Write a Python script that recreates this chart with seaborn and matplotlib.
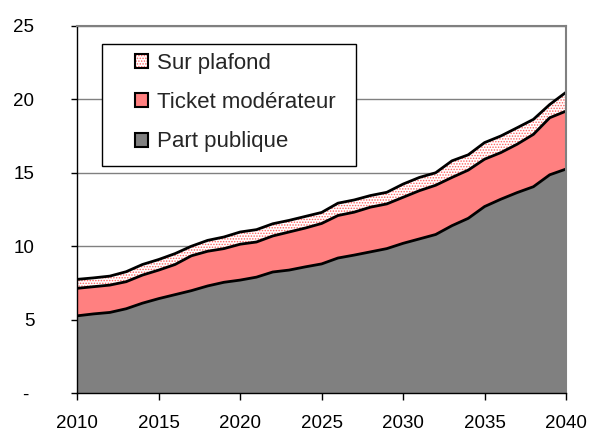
import numpy as np
import pandas as pd
import matplotlib
matplotlib.use("Agg")
import matplotlib.pyplot as plt
import seaborn as sns
from matplotlib.patches import Patch, Rectangle
from matplotlib.legend_handler import HandlerTuple

years = list(range(2010, 2041))
part_publique = [5.27, 5.40, 5.50, 5.75, 6.13, 6.44, 6.71, 6.98, 7.30, 7.55,
                 7.70, 7.90, 8.25, 8.38, 8.60, 8.80, 9.20, 9.40, 9.62, 9.84,
                 10.20, 10.50, 10.80, 11.40, 11.90, 12.70, 13.20, 13.65, 14.05, 14.86,
                 15.25]
ticket_moderateur = [1.87, 1.85, 1.86, 1.84, 1.91, 1.94, 2.05, 2.37, 2.36, 2.29,
                     2.44, 2.39, 2.45, 2.59, 2.64, 2.75, 2.89, 2.92, 3.04, 3.04,
                     3.13, 3.28, 3.35, 3.28, 3.28, 3.22, 3.17, 3.29, 3.56, 3.88,
                     3.94]
sur_plafond = [0.61, 0.60, 0.61, 0.68, 0.72, 0.72, 0.74, 0.65, 0.74, 0.79,
               0.83, 0.84, 0.83, 0.79, 0.79, 0.75, 0.84, 0.83, 0.79, 0.79,
               0.90, 0.90, 0.85, 1.13, 1.04, 1.13, 1.13, 1.12, 1.02, 0.90,
               1.28]
labels = ["Sur plafond", "Ticket modérateur", "Part publique"]
ytick_labels = ["- ", "5", "10", "15", "20", "25"]

sns.set_theme(style="white")
plt.rcParams["font.family"] = ["Liberation Sans", "DejaVu Sans"]
plt.rcParams["hatch.linewidth"] = 0.7

df = pd.DataFrame({"year": years, "pp": part_publique,
                   "tm": ticket_moderateur, "sp": sur_plafond})
df["l1"] = df["pp"]
df["l2"] = df["pp"] + df["tm"]
df["l3"] = df["l2"] + df["sp"]

GRAY = "#808080"
RED = "#FF8080"
HATCH = "#FF6060"

fig = plt.figure(figsize=(5.9, 4.34), dpi=100)
ax = fig.add_axes([77.3 / 590, 1 - 393.3 / 434, (566 - 77.3) / 590, (393.3 - 25.7) / 434])

ax.set_xlim(years[0], years[-1])
ax.set_ylim(0, 25)
ax.set_yticks([0, 5, 10, 15, 20, 25])
ax.set_yticklabels(ytick_labels)
ax.set_xticks(range(2010, 2041, 5))

ax.yaxis.grid(True, color=GRAY, linewidth=1.0, zorder=0)
ax.set_axisbelow(True)

ax.fill_between(df["year"], 0, df["l1"], facecolor=GRAY, linewidth=0, zorder=1)
ax.fill_between(df["year"], df["l1"], df["l2"], facecolor=RED, linewidth=0, zorder=1)
ax.fill_between(df["year"], df["l2"], df["l3"], facecolor="white", edgecolor=HATCH,
                hatch="......", linewidth=0, zorder=1)

for col in ["l1", "l2", "l3"]:
    sns.lineplot(data=df, x="year", y=col, ax=ax, color="black", linewidth=2.0,
                 zorder=2, legend=False)
ax.plot([years[-1], years[-1]], [0, df["l3"].iloc[-1]], color="black",
        linewidth=2.0, zorder=2, solid_capstyle="butt")
ax.set_xlabel("")
ax.set_ylabel("")

for s in ["left", "bottom"]:
    ax.spines[s].set_color("black")
    ax.spines[s].set_linewidth(1.0)
for s in ["top", "right"]:
    ax.spines[s].set_color(GRAY)
    ax.spines[s].set_linewidth(1.5)

ax.tick_params(axis="y", which="major", left=True, length=4, width=1, color="black",
               pad=27, labelsize=13.5, labelcolor="black")
ax.tick_params(axis="x", which="major", bottom=True, length=5, width=1, color="black",
               pad=10.5, labelsize=13.5, labelcolor="black")

# legend frame
frame = Rectangle(((102 - 77.3) / 488.7, (393.3 - 166) / 367.6),
                  (356 - 102) / 488.7, (166 - 44) / 367.6,
                  transform=ax.transAxes, facecolor="white", edgecolor="black",
                  linewidth=1.0, zorder=4)
ax.add_patch(frame)

h_sp = (Patch(facecolor="white", edgecolor=HATCH, hatch="......", linewidth=0),
        Patch(facecolor="none", edgecolor="black", linewidth=1.5))
h_tm = Patch(facecolor=RED, edgecolor="black", linewidth=1.5)
h_pp = Patch(facecolor=GRAY, edgecolor="black", linewidth=1.5)
leg = ax.legend([h_sp, h_tm, h_pp], labels, loc="upper left",
                bbox_to_anchor=((135 - 77.3) / 488.7, (393.3 - 53) / 367.6),
                frameon=False, fontsize=16, handlelength=0.6, handleheight=0.6,
                handletextpad=0.4, labelspacing=0.82, borderpad=0, borderaxespad=0,
                handler_map={tuple: HandlerTuple(ndivide=1)})
leg.set_zorder(5)

fig.savefig("out.png", dpi=100)
